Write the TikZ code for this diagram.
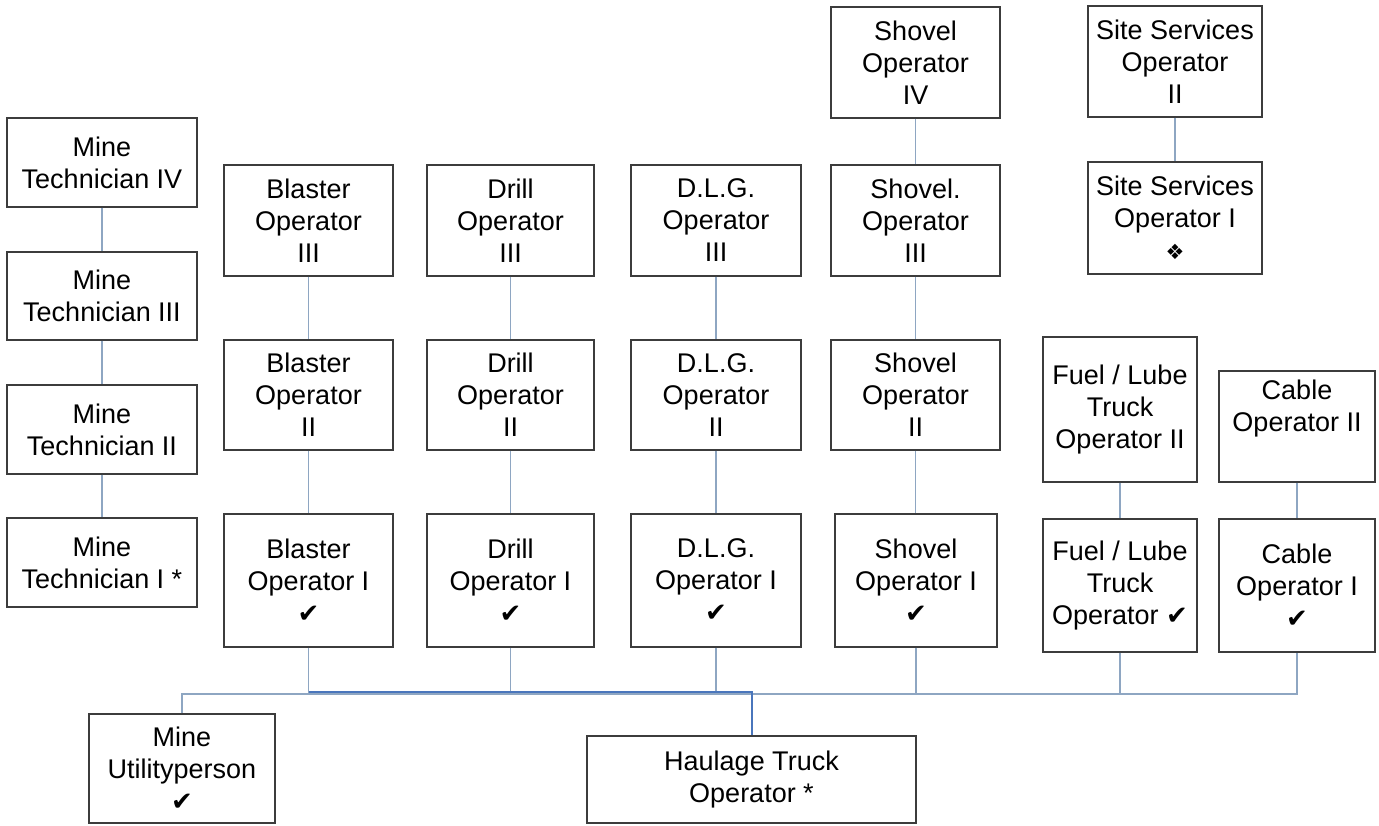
\documentclass[tikz,border=0pt]{standalone}
\usepackage{fontspec}
\setmainfont{Liberation Sans}
\newfontfamily\dejavu{DejaVu Sans}
\definecolor{boxgray}{HTML}{3C3C3C}
\definecolor{connlight}{HTML}{8EA6C2}
\definecolor{conndark}{HTML}{4A76BC}
\newcommand{\chk}{{\dejavu\fontsize{26}{32}\selectfont ✔}}
\newcommand{\dia}{{\dejavu\fontsize{21}{32}\selectfont ❖}}
\begin{document}
\begin{tikzpicture}[x=1pt,y=-1pt,
  box/.style={draw=boxgray, line width=1.4pt, fill=white, align=center,
    inner sep=0pt, font=\fontsize{27}{32}\selectfont},
  conn/.style={draw=connlight, line width=1.3pt},
  conndk/.style={draw=conndark, line width=2pt}]
\useasboundingbox (0,0) rectangle (1379,825);
\fill[white] (0,0) rectangle (1379,825);

% Mine technician column
\node[box, minimum width=190pt, minimum height=89pt] (mt4) at (102,162.5) {Mine\\Technician IV};
\node[box, minimum width=190pt, minimum height=88pt] (mt3) at (102,296) {Mine\\Technician III};
\node[box, minimum width=190pt, minimum height=89pt] (mt2) at (102,429.5) {Mine\\Technician II};
\node[box, minimum width=190pt, minimum height=89pt] (mt1) at (102,562.5) {Mine\\Technician I *};

% Blaster
\node[box, minimum width=169pt, minimum height=111pt] (bl3) at (308.5,220.5) {Blaster\\Operator\\III};
\node[box, minimum width=169pt, minimum height=110pt] (bl2) at (308.5,395) {Blaster\\Operator\\II};
\node[box, minimum width=169pt, minimum height=133pt] (bl1) at (308.5,580.5) {Blaster\\Operator I\\\chk};

% Drill
\node[box, minimum width=167pt, minimum height=111pt] (dr3) at (510.5,220.5) {Drill\\Operator\\III};
\node[box, minimum width=167pt, minimum height=110pt] (dr2) at (510.5,395) {Drill\\Operator\\II};
\node[box, minimum width=167pt, minimum height=133pt] (dr1) at (510.5,580.5) {Drill\\Operator I\\\chk};

% DLG
\node[box, minimum width=170pt, minimum height=111pt] (dl3) at (716,220.5) {D.L.G.\\Operator\\III};
\node[box, minimum width=170pt, minimum height=110pt] (dl2) at (716,395) {D.L.G.\\Operator\\II};
\node[box, minimum width=170pt, minimum height=133pt] (dl1) at (716,580.5) {D.L.G.\\Operator I\\\chk};

% Shovel
\node[box, minimum width=169pt, minimum height=111pt] (sh4) at (915.5,62.5) {Shovel\\Operator\\IV};
\node[box, minimum width=169pt, minimum height=111pt] (sh3) at (915.5,220.5) {Shovel.\\Operator\\III};
\node[box, minimum width=169pt, minimum height=110pt] (sh2) at (915.5,395) {Shovel\\Operator\\II};
\node[box, minimum width=162pt, minimum height=133pt] (sh1) at (916,580.5) {Shovel\\Operator I\\\chk};

% Site services
\node[box, minimum width=174pt, minimum height=111pt] (ss2) at (1175,61.5) {Site Services\\Operator\\II};
\node[box, minimum width=174pt, minimum height=112pt] (ss1) at (1175,218) {Site Services\\Operator I\\\dia};

% Fuel / Lube
\node[box, minimum width=154pt, minimum height=145pt] (fu2) at (1120,409.5) {Fuel / Lube\\Truck\\Operator II};
\node[box, minimum width=154pt, minimum height=133pt] (fu1) at (1120,585.5) {Fuel / Lube\\Truck\\Operator \chk};

% Cable
\node[box, minimum width=156pt, minimum height=111pt] (cb2) at (1297,426.5) {Cable\\Operator II\\\strut};
\node[box, minimum width=156pt, minimum height=133pt] (cb1) at (1297,585.5) {Cable\\Operator I\\\chk};

% Bottom row
\node[box, minimum width=186pt, minimum height=109pt] (mu) at (182,768.5) {Mine\\Utilityperson\\\chk};
\node[box, minimum width=329pt, minimum height=87pt] (ht) at (751.5,779.5) {Haulage Truck\\Operator *};

% vertical connectors within columns
\draw[conn] (mt4.south) -- (mt3.north);
\draw[conn] (mt3.south) -- (mt2.north);
\draw[conn] (mt2.south) -- (mt1.north);
\draw[conn] (bl3.south) -- (bl2.north);
\draw[conn] (bl2.south) -- (bl1.north);
\draw[conn] (dr3.south) -- (dr2.north);
\draw[conn] (dr2.south) -- (dr1.north);
\draw[conn] (dl3.south) -- (dl2.north);
\draw[conn] (dl2.south) -- (dl1.north);
\draw[conn] (sh4.south) -- (sh3.north);
\draw[conn] (sh3.south) -- (sh2.north);
\draw[conn] (sh2.south) -- (sh2.south |- sh1.north);
\draw[conn] (ss2.south) -- (ss1.north);
\draw[conn] (fu2.south) -- (fu1.north);
\draw[conn] (cb2.south) -- (cb1.north);

% bus
\coordinate (bus) at (0,694);
\coordinate (dbus) at (0,692);
\draw[conn] (mu.north) -- (mu.north |- bus) -- (cb1.south |- bus) -- (cb1.south);
\draw[conn] (bl1.south) -- (bl1.south |- bus);
\draw[conn] (dr1.south) -- (dr1.south |- bus);
\draw[conn] (dl1.south) -- (dl1.south |- bus);
\draw[conn] (sh1.south) -- (sh1.south |- bus);
\draw[conn] (fu1.south) -- (fu1.south |- bus);
\draw[conndk] (bl1.south |- dbus) -| (ht.north);
\end{tikzpicture}
\end{document}
